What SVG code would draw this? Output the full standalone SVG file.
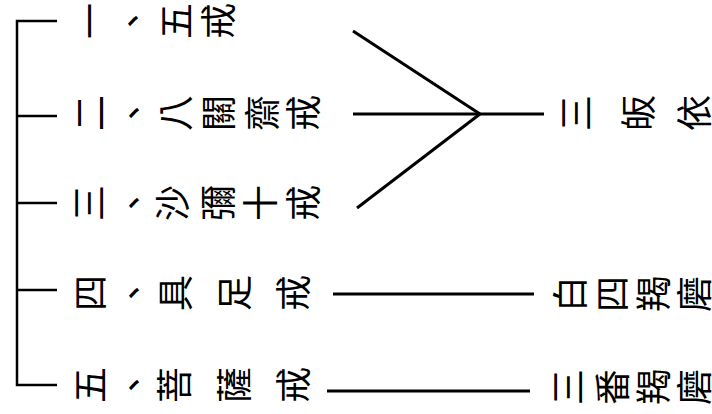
<svg xmlns="http://www.w3.org/2000/svg" width="712" height="414" viewBox="0 0 712 414">
<style>
  .bg{fill:#ffffff}
  .c{font-family:"Noto Sans CJK TC","Noto Sans CJK SC",sans-serif;font-size:36px;fill:#000;text-anchor:middle;dominant-baseline:central}
  .br{stroke:#000;stroke-width:2.5;fill:none}
  .ln{stroke:#000;stroke-width:3;fill:none;stroke-linecap:butt}
</style>
<rect class="bg" x="0" y="0" width="712" height="414"/>
<g id="connectors">
  <path class="br" d="M57 21 H17 V385 H57 M17 116 H57 M17 203 H57 M17 290 H57"/>
  <line class="ln" x1="353" y1="31" x2="480" y2="114"/>
  <line class="ln" x1="353" y1="114" x2="544" y2="114"/>
  <line class="ln" x1="357" y1="208" x2="480" y2="114"/>
  <line class="ln" x1="333" y1="294" x2="534" y2="294"/>
  <line class="ln" x1="327" y1="391" x2="530" y2="391"/>
</g>
<g id="node-1">
  <g transform="translate(88 21) rotate(-90)"><text class="c" x="0" y="0">一</text></g>
  <g transform="translate(131 21) rotate(-90)"><text class="c" x="0" y="0">、</text></g>
  <g transform="translate(174 21) rotate(-90)"><text class="c" x="0" y="0">五</text></g>
  <g transform="translate(216 21) rotate(-90)"><text class="c" x="0" y="0">戒</text></g>
</g>
<g id="node-2">
  <g transform="translate(88 113) rotate(-90)"><text class="c" x="0" y="0">二</text></g>
  <g transform="translate(132 113) rotate(-90)"><text class="c" x="0" y="0">、</text></g>
  <g transform="translate(173 113) rotate(-90)"><text class="c" x="0" y="0">八</text></g>
  <g transform="translate(216 113) rotate(-90)"><text class="c" x="0" y="0">關</text></g>
  <g transform="translate(260 113) rotate(-90)"><text class="c" x="0" y="0">齋</text></g>
  <g transform="translate(301 113) rotate(-90)"><text class="c" x="0" y="0">戒</text></g>
</g>
<g id="node-3">
  <g transform="translate(87 203) rotate(-90)"><text class="c" x="0" y="0">三</text></g>
  <g transform="translate(132 203) rotate(-90)"><text class="c" x="0" y="0">、</text></g>
  <g transform="translate(170 203) rotate(-90)"><text class="c" x="0" y="0">沙</text></g>
  <g transform="translate(216 203) rotate(-90)"><text class="c" x="0" y="0">彌</text></g>
  <g transform="translate(258 203) rotate(-90)"><text class="c" x="0" y="0">十</text></g>
  <g transform="translate(301 203) rotate(-90)"><text class="c" x="0" y="0">戒</text></g>
</g>
<g id="node-4">
  <g transform="translate(88 293) rotate(-90)"><text class="c" x="0" y="0">四</text></g>
  <g transform="translate(132 293) rotate(-90)"><text class="c" x="0" y="0">、</text></g>
  <g transform="translate(173 293) rotate(-90)"><text class="c" x="0" y="0">具</text></g>
  <g transform="translate(232 293) rotate(-90)"><text class="c" x="0" y="0">足</text></g>
  <g transform="translate(291 293) rotate(-90)"><text class="c" x="0" y="0">戒</text></g>
</g>
<g id="node-5">
  <g transform="translate(88 385) rotate(-90)"><text class="c" x="0" y="0">五</text></g>
  <g transform="translate(132 385) rotate(-90)"><text class="c" x="0" y="0">、</text></g>
  <g transform="translate(172 385) rotate(-90)"><text class="c" x="0" y="0">菩</text></g>
  <g transform="translate(232 385) rotate(-90)"><text class="c" x="0" y="0">薩</text></g>
  <g transform="translate(291 385) rotate(-90)"><text class="c" x="0" y="0">戒</text></g>
</g>
<g id="node-sanguiyi">
  <g transform="translate(574 113) rotate(-90)"><text class="c" x="0" y="0">三</text></g>
  <g transform="translate(636 113) rotate(-90)"><text class="c" x="0" y="0">皈</text></g>
  <g transform="translate(692 113) rotate(-90)"><text class="c" x="0" y="0">依</text></g>
</g>
<g id="node-baisi">
  <g transform="translate(568 294) rotate(-90)"><text class="c" x="0" y="0">白</text></g>
  <g transform="translate(610 294) rotate(-90)"><text class="c" x="0" y="0">四</text></g>
  <g transform="translate(651 294) rotate(-90)"><text class="c" x="0" y="0">羯</text></g>
  <g transform="translate(692 294) rotate(-90)"><text class="c" x="0" y="0">磨</text></g>
</g>
<g id="node-sanfan">
  <g transform="translate(566 387) rotate(-90)"><text class="c" x="0" y="0">三</text></g>
  <g transform="translate(610 387) rotate(-90)"><text class="c" x="0" y="0">番</text></g>
  <g transform="translate(651 387) rotate(-90)"><text class="c" x="0" y="0">羯</text></g>
  <g transform="translate(692 387) rotate(-90)"><text class="c" x="0" y="0">磨</text></g>
</g>
</svg>
